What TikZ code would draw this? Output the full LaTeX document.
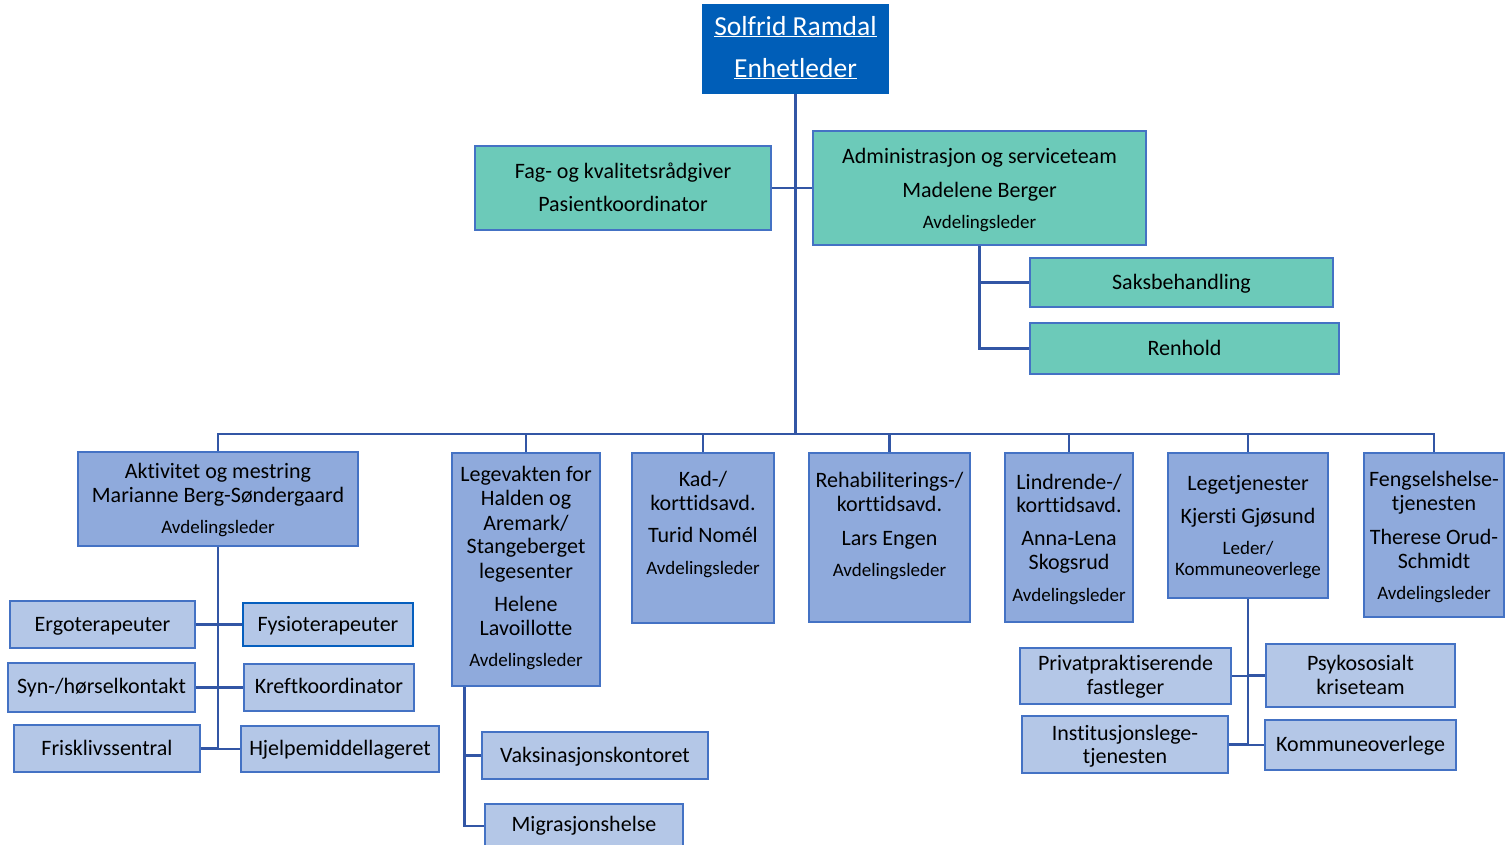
\documentclass[tikz,border=0pt]{standalone}
\usepackage{fontspec}
\setmainfont{Carlito}[Ligatures=CommonOff]
\usetikzlibrary{calc,backgrounds}
\definecolor{topfill}{RGB}{0,94,184}
\definecolor{greenfill}{RGB}{108,202,185}
\definecolor{midfill}{RGB}{143,170,220}
\definecolor{lightfill}{RGB}{180,199,231}
\definecolor{borderblue}{RGB}{68,114,196}
\definecolor{darkborder}{RGB}{5,95,190}
\definecolor{lineblue}{RGB}{50,86,165}
\tikzset{
  conn/.style={draw=lineblue, line width=2.8pt},
  boxbase/.style={rectangle, draw=borderblue, line width=2.8pt, inner sep=0pt},
  greenbox/.style={boxbase, fill=greenfill},
  midbox/.style={boxbase, fill=midfill},
  lightbox/.style={boxbase, fill=lightfill},
  topbox/.style={boxbase, fill=topfill, draw=topfill},
  lbl/.style={anchor=base, inner sep=0pt, text=black},
  big/.style={lbl, font=\fontsize{22}{26}\selectfont},
  sml/.style={lbl, font=\fontsize{19}{22}\selectfont},
  ttl/.style={lbl, text=white, font=\fontsize{27.5}{32}\selectfont},
}
\newcount\tcnt
\newcommand\bx[6]{\node[#1, minimum width={#4-#2}, minimum height={#5-#3}] (#6) at ({(#2+#4)/2},{(#3+#5)/2}) {};}
\newcommand\tx[4]{\global\advance\tcnt by 1 \node[#1] (t\the\tcnt) at (#2,#3) {#4};}
\begin{document}
\begin{tikzpicture}[x=1pt,y=-1pt]
\useasboundingbox (0,0) rectangle (1506,844);
% boxes
\bx{topbox}{703}{5}{888}{93}{top}
\bx{greenbox}{475}{146}{771}{230}{fag}
\bx{greenbox}{813}{131}{1146}{245}{adm}
\bx{greenbox}{1030}{258}{1333}{307}{saks}
\bx{greenbox}{1030}{323}{1339}{374}{renh}
\bx{midbox}{78}{452}{358}{546}{akt}
\bx{midbox}{452}{453}{600}{686}{leg}
\bx{midbox}{632}{453}{774}{623}{kad}
\bx{midbox}{809}{453}{970}{622}{reh}
\bx{midbox}{1005}{453}{1133}{622}{lin}
\bx{midbox}{1168}{453}{1328}{598}{lt}
\bx{midbox}{1364}{453}{1504}{617}{fen}
\bx{lightbox}{10}{601}{195}{648}{erg}
\bx{lightbox,draw=darkborder}{243}{603}{413}{646}{fys}
\bx{lightbox}{8}{663}{195}{712}{syn}
\bx{lightbox}{244}{664}{414}{711}{kre}
\bx{lightbox}{14}{725}{200}{772}{fri}
\bx{lightbox}{241}{726}{439}{772}{hje}
\bx{lightbox}{482}{732}{708}{779}{vak}
\bx{lightbox}{485}{804}{683}{848}{mig}
\bx{lightbox}{1020}{648}{1231}{704}{pri}
\bx{lightbox}{1266}{644}{1455}{707}{psy}
\bx{lightbox}{1022}{716}{1228}{773}{ins}
\bx{lightbox}{1265}{720}{1456}{770}{kom}
% connectors
\begin{pgfonlayer}{background}
\coordinate (bus) at (795.5,434);
\coordinate (legdrop) at ($(leg.south west)+(14,0)$);
\draw[conn] (top.south) -- (bus);
\draw[conn] (fag.east) -- (adm.west);
\draw[conn] (adm.south) |- (saks.west);
\draw[conn] (adm.south) |- (renh.west);
\foreach \b in {akt,leg,kad,reh,lin,lt,fen} {\draw[conn] (\b.north) |- (bus);}
\draw[conn] (akt.south) |- (erg.east);
\draw[conn] (akt.south) |- (fys.west);
\draw[conn] (akt.south) |- (syn.east);
\draw[conn] (akt.south) |- (kre.west);
\draw[conn] (akt.south) |- (fri.east);
\draw[conn] (akt.south) |- (hje.west);
\draw[conn] (legdrop) |- (vak.west);
\draw[conn] (legdrop) |- (mig.west);
\draw[conn] (lt.south) |- (pri.east);
\draw[conn] (lt.south) |- (psy.west);
\draw[conn] (lt.south) |- (ins.east);
\draw[conn] (lt.south) |- (kom.west);
\end{pgfonlayer}
% texts
\tx{ttl}{795.5}{35}{\underline{Solfrid Ramdal}}
\tx{ttl}{795.5}{77}{\underline{Enhetleder}}
\tx{big}{623}{178}{Fag- og kvalitetsrådgiver}
\tx{big}{623}{211}{Pasientkoordinator}
\tx{big}{979.5}{163}{Administrasjon og serviceteam}
\tx{big}{979.5}{197}{Madelene Berger}
\tx{sml}{979.5}{228}{Avdelingsleder}
\tx{big}{1181.5}{289}{Saksbehandling}
\tx{big}{1184.5}{355}{Renhold}
\tx{big}{218}{478}{Aktivitet og mestring}
\tx{big}{218}{502}{Marianne Berg-Søndergaard}
\tx{sml}{218}{533}{Avdelingsleder}
\tx{big}{526}{481}{Legevakten for}
\tx{big}{526}{505.5}{Halden og}
\tx{big}{526}{530}{Aremark/}
\tx{big}{526}{553.5}{Stangeberget}
\tx{big}{526}{578}{legesenter}
\tx{big}{526}{611}{Helene}
\tx{big}{526}{635}{Lavoillotte}
\tx{sml}{526}{666}{Avdelingsleder}
\tx{big}{703}{486}{Kad-/}
\tx{big}{703}{510}{korttidsavd.}
\tx{big}{703}{542}{Turid Nomél}
\tx{sml}{703}{574}{Avdelingsleder}
\tx{big}{889.5}{487}{Rehabiliterings-/}
\tx{big}{889.5}{511}{korttidsavd.}
\tx{big}{889.5}{545}{Lars Engen}
\tx{sml}{889.5}{576}{Avdelingsleder}
\tx{big}{1069}{489}{Lindrende-/}
\tx{big}{1069}{512}{korttidsavd.}
\tx{big}{1069}{545}{Anna-Lena}
\tx{big}{1069}{569}{Skogsrud}
\tx{sml}{1069}{601.5}{Avdelingsleder}
\tx{big}{1248}{490}{Legetjenester}
\tx{big}{1248}{523}{Kjersti Gjøsund}
\tx{sml}{1248}{554}{Leder/}
\tx{sml}{1248}{575}{Kommuneoverlege}
\tx{big}{1434}{486}{Fengselshelse-}
\tx{big}{1434}{510}{tjenesten}
\tx{big}{1434}{544}{Therese Orud-}
\tx{big}{1434}{568}{Schmidt}
\tx{sml}{1434}{599}{Avdelingsleder}
\tx{big}{102.5}{631}{Ergoterapeuter}
\tx{big}{328}{631}{Fysioterapeuter}
\tx{big}{101.5}{693}{Syn-/hørselkontakt}
\tx{big}{329}{693}{Kreftkoordinator}
\tx{big}{107}{755}{Frisklivssentral}
\tx{big}{340}{755}{Hjelpemiddellageret}
\tx{big}{595}{762}{Vaksinasjonskontoret}
\tx{big}{584}{831}{Migrasjonshelse}
\tx{big}{1125.5}{670}{Privatpraktiserende}
\tx{big}{1125.5}{694}{fastleger}
\tx{big}{1360.5}{670}{Psykososialt}
\tx{big}{1360.5}{694}{kriseteam}
\tx{big}{1125}{740}{Institusjonslege-}
\tx{big}{1125}{763}{tjenesten}
\tx{big}{1360.5}{751}{Kommuneoverlege}
\end{tikzpicture}
\end{document}
